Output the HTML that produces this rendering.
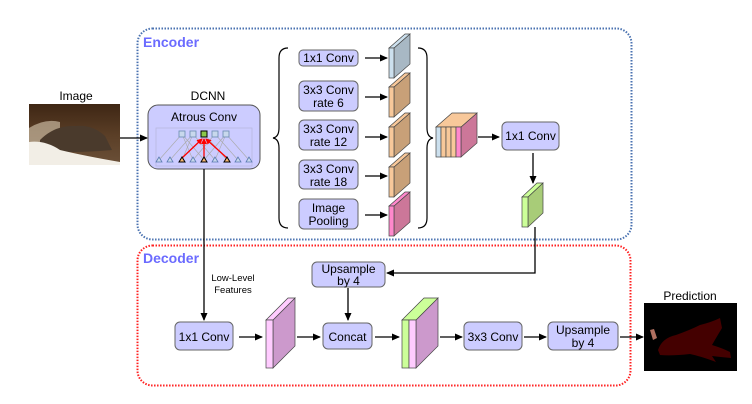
<!DOCTYPE html>
<html><head><meta charset="utf-8"><style>
html,body{margin:0;padding:0;background:#fff;}
svg{display:block;font-family:"Liberation Sans",Arial,sans-serif;}
</style></head><body>
<svg width="752" height="404" viewBox="0 0 752 404" xmlns="http://www.w3.org/2000/svg">
<defs>
<marker id="ah" markerWidth="8" markerHeight="8" refX="7" refY="4" orient="auto" markerUnits="userSpaceOnUse"><path d="M0,0.5 L8,4 L0,7.5 z" fill="#000"/></marker>
<marker id="rh" markerWidth="6" markerHeight="6" refX="5" refY="3" orient="auto" markerUnits="userSpaceOnUse"><path d="M0,0 L6,3 L0,6 z" fill="#f00"/></marker>
<linearGradient id="cat" x1="0" y1="0" x2="0" y2="1">
<stop offset="0" stop-color="#3e2614"/><stop offset="0.5" stop-color="#5a3e26"/><stop offset="1" stop-color="#6b5038"/></linearGradient>
</defs>

<rect x="137.5" y="28.5" width="494" height="211" rx="15" fill="none" stroke="#4a72b0" stroke-width="2" stroke-dasharray="1.5 1.5"/>
<text x="143" y="47" font-size="14" font-weight="bold" fill="#6b6bff">Encoder</text>
<rect x="137.5" y="245.5" width="493" height="140" rx="15" fill="none" stroke="#ff2020" stroke-width="2" stroke-dasharray="1.5 1.5"/>
<text x="143" y="263" font-size="14" font-weight="bold" fill="#6b6bff">Decoder</text>

<text x="76" y="100" font-size="12" text-anchor="middle">Image</text>
<rect x="29" y="104" width="91" height="61" fill="url(#cat)"/>
<path d="M29,128 Q45,118 60,122 L60,140 L29,145 z" fill="#c8b8a0" opacity="0.7"/>
<path d="M40,140 Q55,125 75,126 Q92,124 105,136 L112,150 Q90,152 70,152 L40,152 z" fill="#4a3a2c"/>
<path d="M29,142 Q45,140 60,150 Q85,156 120,162 L120,165 L29,165 z" fill="#f2eee6"/>
<line x1="120" y1="138" x2="147" y2="138" stroke="#000" stroke-width="1.3" marker-end="url(#ah)"/>

<text x="208" y="100" font-size="12" text-anchor="middle">DCNN</text>
<rect x="148" y="105" width="112" height="64" rx="10" fill="#ccccff" stroke="#555" stroke-width="1"/>
<text x="204" y="121" font-size="12" text-anchor="middle">Atrous Conv</text>
<rect x="156" y="128" width="96" height="38" fill="none" stroke="#b8b8e0" stroke-width="0.8"/>
<g stroke="#aaa" stroke-width="0.6">
<line x1="159" y1="160" x2="182" y2="134"/><line x1="170" y1="160" x2="193" y2="134"/><line x1="182" y1="160" x2="193" y2="134"/>
<line x1="193" y1="160" x2="182" y2="134"/><line x1="193" y1="160" x2="215" y2="134"/><line x1="215" y1="160" x2="193" y2="134"/>
<line x1="215" y1="160" x2="226" y2="134"/><line x1="238" y1="160" x2="215" y2="134"/><line x1="249" y1="160" x2="226" y2="134"/>
<line x1="227" y1="160" x2="204" y2="134"/><line x1="204" y1="160" x2="182" y2="134"/><line x1="204" y1="160" x2="226" y2="134"/>
</g>
<g fill="#c8d8ec" stroke="#6a8ab0" stroke-width="0.8">
<rect x="179" y="131" width="6" height="6"/><rect x="190" y="131" width="6" height="6"/><rect x="212" y="131" width="6" height="6"/><rect x="223" y="131" width="6" height="6"/>
</g>
<rect x="201" y="131" width="6" height="6" fill="#8cc84a" stroke="#000" stroke-width="1"/>
<g stroke="#f00" stroke-width="1.3">
<line x1="182" y1="158" x2="202" y2="139" marker-end="url(#rh)"/>
<line x1="204" y1="158" x2="204" y2="139" marker-end="url(#rh)"/>
<line x1="227" y1="158" x2="206" y2="139" marker-end="url(#rh)"/>
</g>
<g fill="#c8d8ec" stroke="#5a7ab0" stroke-width="0.8">
<path d="M159,157 l-3,5 h6z"/><path d="M170,157 l-3,5 h6z"/><path d="M193,157 l-3,5 h6z"/><path d="M215,157 l-3,5 h6z"/><path d="M238,157 l-3,5 h6z"/><path d="M249,157 l-3,5 h6z"/>
</g>
<g fill="#f8b870" stroke="#000" stroke-width="1">
<path d="M182,157 l-3,5 h6z"/><path d="M204,157 l-3,5 h6z"/><path d="M227,157 l-3,5 h6z"/>
</g>

<path d="M288,48 Q279,48 279,58 L279,128 Q279,137 273,138 Q279,139 279,148 L279,218 Q279,228 288,228" fill="none" stroke="#000" stroke-width="1.2"/>
<path d="M418,48 Q427,48 427,58 L427,128 Q427,137 433,138 Q427,139 427,148 L427,218 Q427,228 418,228" fill="none" stroke="#000" stroke-width="1.2"/>

<g fill="#ccccff" stroke="#666" stroke-width="1">
<rect x="299" y="50" width="59" height="16" rx="4"/>
<rect x="299" y="81" width="59" height="30" rx="5"/>
<rect x="299" y="120" width="59" height="30" rx="5"/>
<rect x="299" y="160" width="59" height="29" rx="5"/>
<rect x="299" y="199" width="59" height="30" rx="5"/>
</g>
<g font-size="12" text-anchor="middle">
<text x="328.5" y="62">1x1 Conv</text>
<text x="328.5" y="94">3x3 Conv</text><text x="328.5" y="107">rate 6</text>
<text x="328.5" y="133">3x3 Conv</text><text x="328.5" y="146">rate 12</text>
<text x="328.5" y="173">3x3 Conv</text><text x="328.5" y="186">rate 18</text>
<text x="328.5" y="212">Image</text><text x="328.5" y="225">Pooling</text>
</g>
<g stroke="#000" stroke-width="1.3">
<line x1="365" y1="58" x2="387" y2="58" marker-end="url(#ah)"/>
<line x1="365" y1="97" x2="387" y2="97" marker-end="url(#ah)"/>
<line x1="365" y1="137" x2="387" y2="137" marker-end="url(#ah)"/>
<line x1="365" y1="176" x2="387" y2="176" marker-end="url(#ah)"/>
<line x1="365" y1="215" x2="387" y2="215" marker-end="url(#ah)"/>
</g>
<g stroke="#444" stroke-width="0.7">
<path d="M394,48 L410,34 L410,64 L394,78 z" fill="#a8b8c4"/><path d="M389,48 L405,34 L410,34 L394,48 z" fill="#cce0ee"/><rect x="389" y="48" width="5" height="30" fill="#cce0ee"/>
<path d="M394,87 L410,73 L410,103 L394,117 z" fill="#c8a078"/><path d="M389,87 L405,73 L410,73 L394,87 z" fill="#f8c89a"/><rect x="389" y="87" width="5" height="30" fill="#f8c89a"/>
<path d="M394,127 L410,113 L410,143 L394,157 z" fill="#c8a078"/><path d="M389,127 L405,113 L410,113 L394,127 z" fill="#f8c89a"/><rect x="389" y="127" width="5" height="30" fill="#f8c89a"/>
<path d="M394,167 L410,153 L410,183 L394,197 z" fill="#c8a078"/><path d="M389,167 L405,153 L410,153 L394,167 z" fill="#f8c89a"/><rect x="389" y="167" width="5" height="30" fill="#f8c89a"/>
<path d="M394,206 L410,192 L410,222 L394,236 z" fill="#cc7799"/><path d="M389,206 L405,192 L410,192 L394,206 z" fill="#ff88cc"/><rect x="389" y="206" width="5" height="30" fill="#ff88cc"/>
</g>
<g stroke="#444" stroke-width="0.7">
<path d="M461,127 L477,113 L477,143 L461,157 z" fill="#cc7799"/>
<path d="M436,127 L452,113 L477,113 L461,127 z" fill="#f8c89a"/>
<rect x="436" y="127" width="5" height="30" fill="#cce0ee"/>
<rect x="441" y="127" width="5" height="30" fill="#f8c89a"/>
<rect x="446" y="127" width="5" height="30" fill="#f8c89a"/>
<rect x="451" y="127" width="5" height="30" fill="#f8c89a"/>
<rect x="456" y="127" width="5" height="30" fill="#ff88cc"/>
</g>
<line x1="478" y1="137" x2="499" y2="137" stroke="#000" stroke-width="1.3" marker-end="url(#ah)"/>
<rect x="502" y="122" width="57" height="28" rx="5" fill="#ccccff" stroke="#666"/>
<text x="530.5" y="140" font-size="12" text-anchor="middle">1x1 Conv</text>
<line x1="533" y1="153" x2="533" y2="183" stroke="#000" stroke-width="1.3" marker-end="url(#ah)"/>
<g stroke="#444" stroke-width="0.7">
<path d="M528,197 L543,183 L543,213 L528,227 z" fill="#a8cc78"/><path d="M522,197 L537,183 L543,183 L528,197 z" fill="#ccff99"/><rect x="522" y="197" width="6" height="30" fill="#ccff99"/>
</g>
<polyline points="535,227 535,273 387,273" fill="none" stroke="#000" stroke-width="1.3" marker-end="url(#ah)"/>

<line x1="204" y1="169" x2="204" y2="320" stroke="#000" stroke-width="1.3" marker-end="url(#ah)"/>
<text x="233" y="281" font-size="9.5" text-anchor="middle">Low-Level</text>
<text x="233" y="293" font-size="9.5" text-anchor="middle">Features</text>
<rect x="312" y="262" width="73" height="25" rx="5" fill="#ccccff" stroke="#666"/>
<text x="348.5" y="273" font-size="12" text-anchor="middle">Upsample</text>
<text x="348.5" y="285" font-size="12" text-anchor="middle">by 4</text>
<line x1="348" y1="288" x2="348" y2="320" stroke="#000" stroke-width="1.3" marker-end="url(#ah)"/>

<rect x="175" y="322" width="58" height="28" rx="5" fill="#ccccff" stroke="#666"/>
<text x="204" y="341" font-size="12" text-anchor="middle">1x1 Conv</text>
<line x1="239" y1="337" x2="262" y2="337" stroke="#000" stroke-width="1.3" marker-end="url(#ah)"/>
<g stroke="#444" stroke-width="0.7">
<path d="M273,320 L295,298 L295,346 L273,368 z" fill="#cc99cc"/><path d="M266,320 L288,298 L295,298 L273,320 z" fill="#ffccff"/><rect x="266" y="320" width="7" height="48" fill="#ffccff"/>
</g>
<line x1="297" y1="337" x2="320" y2="337" stroke="#000" stroke-width="1.3" marker-end="url(#ah)"/>
<rect x="323" y="323" width="49" height="26" rx="5" fill="#ccccff" stroke="#666"/>
<text x="347.5" y="341" font-size="12" text-anchor="middle">Concat</text>
<line x1="375" y1="337" x2="399" y2="337" stroke="#000" stroke-width="1.3" marker-end="url(#ah)"/>
<g stroke="#444" stroke-width="0.7">
<path d="M416,320 L438,298 L438,346 L416,368 z" fill="#cc99cc"/>
<path d="M402,320 L424,298 L438,298 L416,320 z" fill="#ccff99"/>
<rect x="402" y="320" width="7" height="48" fill="#ccff99"/><rect x="409" y="320" width="7" height="48" fill="#ffccff"/>
</g>
<line x1="440" y1="337" x2="462" y2="337" stroke="#000" stroke-width="1.3" marker-end="url(#ah)"/>
<rect x="464" y="322" width="58" height="28" rx="5" fill="#ccccff" stroke="#666"/>
<text x="493" y="341" font-size="12" text-anchor="middle">3x3 Conv</text>
<line x1="524" y1="337" x2="546" y2="337" stroke="#000" stroke-width="1.3" marker-end="url(#ah)"/>
<rect x="548" y="322" width="70" height="28" rx="5" fill="#ccccff" stroke="#666"/>
<text x="583" y="334" font-size="12" text-anchor="middle">Upsample</text>
<text x="583" y="347" font-size="12" text-anchor="middle">by 4</text>
<line x1="620" y1="337" x2="643" y2="337" stroke="#000" stroke-width="1.3" marker-end="url(#ah)"/>

<text x="690" y="300" font-size="12" text-anchor="middle">Prediction</text>
<rect x="644" y="303" width="93" height="68" fill="#000"/>
<path d="M658,350 Q662,338 676,335 Q690,330 700,325 Q712,322 720,318 L722,328 Q716,338 712,345 Q722,348 730,352 L731,358 Q720,357 712,356 L716,362 Q700,356 690,354 Q672,356 660,355 z" fill="#440000"/>
<path d="M650,330 L654,329 L657,338 L653,340 z" fill="#b07060"/>
</svg>
</body></html>
